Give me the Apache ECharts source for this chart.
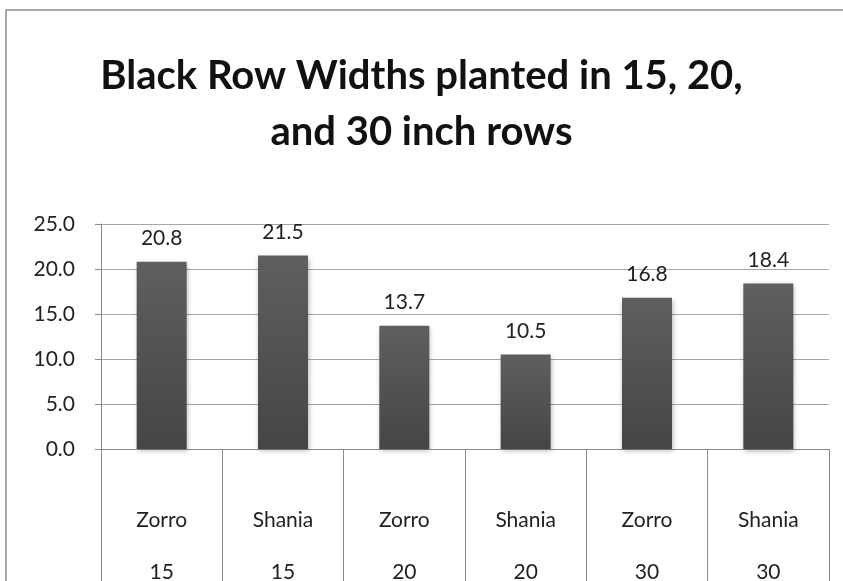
<!DOCTYPE html>
<html>
<head>
<meta charset="utf-8">
<script src="https://cdn.jsdelivr.net/npm/echarts@6/dist/echarts.min.js"></script>
<style>html,body{margin:0;padding:0;background:#fff;}#c{width:843px;height:581px;}</style>
</head>
<body>
<div id="c"></div>
<script>
const varieties = ['Zorro', 'Shania', 'Zorro', 'Shania', 'Zorro', 'Shania'];
const rowWidths = ['15', '15', '20', '20', '30', '30'];
const values = [20.8, 21.5, 13.7, 10.5, 16.8, 18.4];
const yTicks = [0, 5, 10, 15, 20, 25];

const categories = varieties.map((v, i) => v + '\n' + rowWidths[i]);
const chart = echarts.init(document.getElementById('c'));
const font = 'Lato, "Open Sans", sans-serif';
chart.setOption({
  animation: false,
  backgroundColor: '#fff',
  title: {
    text: 'Black Row Widths planted in 15, 20,\nand 30 inch rows',
    left: 'center',
    top: 43,
    textStyle: { fontFamily: font, fontWeight: 'bold', fontSize: 40, lineHeight: 56, color: '#111' }
  },
  graphic: [{
    type: 'rect', shape: { x: 6, y: 10, width: 900, height: 700 },
    style: { fill: 'none', stroke: '#8c8c8c', lineWidth: 1.5 }, silent: true, z: -1
  }],
  grid: { left: 101, right: 14, top: 224, bottom: 132, outerBoundsMode: 'none', containLabel: false },
  xAxis: {
    type: 'category',
    data: categories,
    axisLine: { lineStyle: { color: '#8a8a8a', width: 1 } },
    axisTick: { show: true, length: 140, lineStyle: { color: '#8a8a8a' } },
    axisLabel: {
      margin: 45,
      fontFamily: font, fontSize: 21, color: '#222', lineHeight: 52,
      interval: 0
    }
  },
  yAxis: {
    type: 'value',
    min: 0, max: 25, interval: 5,
    axisLine: { show: true, lineStyle: { color: '#8a8a8a' } },
    axisTick: { show: true, length: 6, lineStyle: { color: '#8a8a8a' } },
    splitLine: { lineStyle: { color: '#a6a6a6', width: 1.2 } },
    axisLabel: {
      margin: 26, fontFamily: font, fontSize: 21, color: '#222',
      formatter: v => yTicks.includes(v) ? v.toFixed(1) : ''
    }
  },
  series: [{
    type: 'bar',
    data: values,
    barWidth: 50,
    itemStyle: {
      color: new echarts.graphic.LinearGradient(0, 0, 0, 1, [
        { offset: 0, color: '#5f5f5f' }, { offset: 1, color: '#454545' }
      ]),
      shadowColor: 'rgba(0,0,0,0.3)', shadowBlur: 5, shadowOffsetX: 1, shadowOffsetY: 2
    },
    label: {
      show: true, position: 'top', distance: 13,
      fontFamily: font, fontSize: 21, color: '#222',
      formatter: p => p.value.toFixed(1)
    }
  }]
});
</script>
</body>
</html>
